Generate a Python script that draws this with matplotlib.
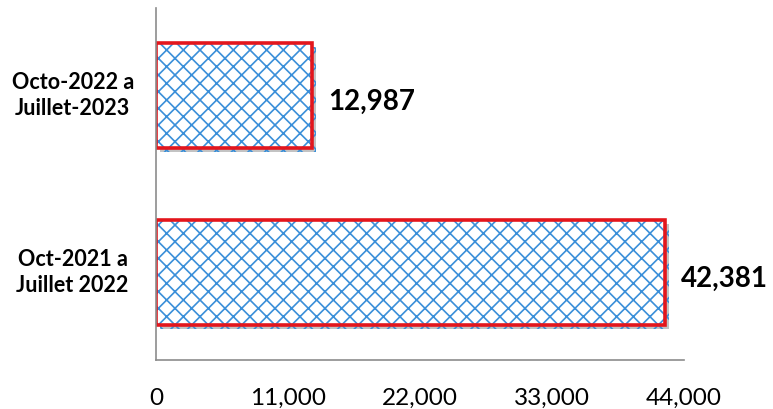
import matplotlib.pyplot as plt
import matplotlib.patheffects as pe

# Period totals
periods = ["Oct-2021 a\nJuillet 2022", "Octo-2022 a\nJuillet-2023"]
totals = [42381, 12987]
xticks = [0, 11000, 22000, 33000, 44000]

plt.rcParams['font.family'] = ['Lato', 'DejaVu Sans']
plt.rcParams['hatch.linewidth'] = 1.2

fig = plt.figure(figsize=(7.73, 4.09), dpi=100)
ax = fig.add_axes([156 / 773, 1 - 360 / 409, 528 / 773, 352 / 409])

pos = range(len(totals))
# blue patterned fill with a soft drop shadow, red outline on top
fill = ax.barh(pos, totals, height=0.59, color='white', edgecolor='#3A8FD9',
               linewidth=0, hatch='xx')
for b in fill:
    b.set_path_effects([pe.SimplePatchShadow(offset=(3, -3), shadow_rgbFace='#888888', alpha=0.5),
                        pe.Normal()])
ax.barh(pos, totals, height=0.59, fill=False, edgecolor='#E3161C', linewidth=2.6)

# value labels at the end of each bar
for i, v in enumerate(totals):
    ax.text(v + 1350, i - 0.035, f"{v:,}", va='center', ha='left',
            fontsize=20, fontweight='bold')

ax.set_xlim(0, 44000)
ax.set_ylim(-0.494, 1.494)
ax.set_xticks(xticks)
ax.set_xticklabels([f"{t:,}" for t in xticks], fontsize=17.5)
ax.set_yticks(list(pos))
ax.set_yticklabels(periods, fontsize=15.5, fontweight='bold', ha='center',
                   va='center', linespacing=1.25)
ax.tick_params(axis='y', length=0, pad=60)
ax.tick_params(axis='x', length=0, pad=20)

for s in ['top', 'right']:
    ax.spines[s].set_visible(False)
for s in ['left', 'bottom']:
    ax.spines[s].set_color('#8C8C8C')
    ax.spines[s].set_linewidth(1.2)

fig.savefig('out.png', dpi=100)
